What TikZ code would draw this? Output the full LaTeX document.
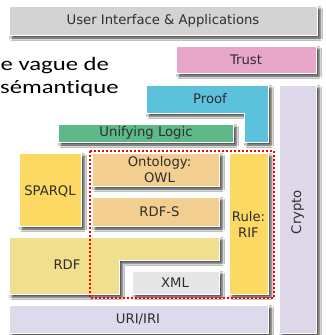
\documentclass[tikz,border=0pt]{standalone}
\usepackage{fontspec}
\setmainfont{DejaVu Sans}
\newfontfamily\bigfont[Ligatures=NoCommon]{Carlito}
\usetikzlibrary{shadows.blur}

\definecolor{uigray}{HTML}{D4D3D4}
\definecolor{trustpink}{HTML}{E8A6C8}
\definecolor{proofcyan}{HTML}{5CC1DB}
\definecolor{cryptolav}{HTML}{DED7EA}
\definecolor{logicgreen}{HTML}{5DBA88}
\definecolor{ontotan}{HTML}{F2CF90}
\definecolor{ruleyellow}{HTML}{FBD962}
\definecolor{rdfyellow}{HTML}{EFDF8F}
\definecolor{xmlgray}{HTML}{E6E6E6}
\definecolor{urilav}{HTML}{DED9EB}
\definecolor{labelgray}{HTML}{2E2E2E}

\tikzset{
  layer/.style={draw=white, line width=0.9pt,
    blur shadow={shadow xshift=3pt, shadow yshift=-3pt,
      shadow blur radius=2.5pt, shadow opacity=80}},
  lbl/.style={text=labelgray, font=\fontsize{13.2}{16}\selectfont, align=center, inner sep=0pt},
  bigtext/.style={font=\bigfont\fontsize{19}{23}\selectfont, anchor=base west, inner sep=0pt},
  frame/.style={draw=red, line width=2pt, dash pattern=on 2pt off 2pt}
}

\begin{document}
\begin{tikzpicture}[x=1pt, y=-1pt]
  \useasboundingbox[fill=white] (0,0) rectangle (326,335);

  % heading text, cut at the left edge
  \begin{scope}
    \clip (0,0) rectangle (326,335);
    \node[bigtext] (h1) at (0.5,70.5) {\scalebox{1.3}[1]{e vague de}};
    \node[bigtext] (h2) at (0,93) {\scalebox{1.3}[1]{sémantique}};
  \end{scope}

  % layer stack
  \path[layer, fill=uigray] (9,6) rectangle (317,35);
  \node[lbl] (ui) at (163,20.5) {User Interface \& Applications};

  \path[layer, fill=trustpink] (176,46) rectangle (316,73);
  \node[lbl] (trust) at (246,59.5) {Trust};

  \path[layer, fill=cryptolav] (279,85) rectangle (316,333);
  \node[lbl, rotate=90] (crypto) at (297.5,212) {Crypto};

  \path[layer, fill=proofcyan] (146,85) -- (268,85) -- (268,142) -- (244,142)
    -- (244,113) -- (146,113) -- cycle;
  \node[lbl] (proof) at (210,99) {Proof};

  \path[layer, fill=logicgreen] (58,124) rectangle (233,142);
  \node[lbl] (logic) at (146,133) {Unifying Logic};

  \path[layer, fill=ruleyellow] (19,153) rectangle (81,226);
  \node[lbl] (sparql) at (50,191) {SPARQL};

  \path[layer, fill=ontotan] (92,153) rectangle (219,186);
  \node[lbl] (owl) at (159.5,170) {Ontology:\\OWL};

  \path[layer, fill=ontotan] (92,197) rectangle (219,226);
  \node[lbl] (rdfs) at (159.5,211.5) {RDF-S};

  \path[layer, fill=ruleyellow] (229,153) rectangle (268,294);
  \node[lbl] (rif) at (248.5,224) {Rule:\\RIF};

  \path[layer, fill=rdfyellow] (9,237) -- (219,237) -- (219,260) -- (119,260)
    -- (119,294) -- (9,294) -- cycle;
  \node[lbl] (rdf) at (67,265) {RDF};

  \path[layer, fill=xmlgray] (132,271) rectangle (219,294);
  \node[lbl] (xml) at (175,282.5) {XML};

  \path[layer, fill=urilav] (9,305) rectangle (268,333);
  \node[lbl] (uri) at (138,319) {URI/IRI};

  % dotted frame round the ontology and rule layers
  \draw[frame] (89.5,150.5) rectangle (273.5,297.5);
\end{tikzpicture}
\end{document}
